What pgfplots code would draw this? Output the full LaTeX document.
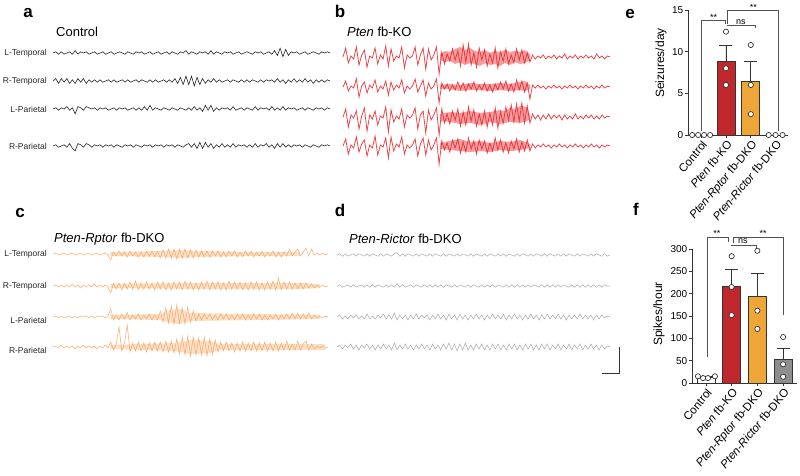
\documentclass[border=0pt]{standalone}
\usepackage{pgfplots}
\pgfplotsset{compat=1.18}
\usepackage{pgfplotstable}
\usepackage{fontspec}
\setmainfont{Liberation Sans}
\definecolor{ptenred}{HTML}{C0272D}
\definecolor{rptororange}{HTML}{EFA639}
\definecolor{rictorgray}{HTML}{8E8E8E}
\definecolor{tracered}{HTML}{E8262B}
\definecolor{traceorange}{HTML}{F5A25D}
\definecolor{tracegray}{HTML}{A8A8A8}
\definecolor{axgray}{HTML}{333333}

% Panel a: Control (deviation in px, up positive)
\pgfplotstableread{
A B C D
0 0 0 0
1 2 1 1
-1 -2 -1 -1
1 2 1 0
-1 -1 0 1
0 2 2 -1
1 -2 -1 2
-1 1 1 -2
2 -2 -4 -4
-1 2 2 2
1 -1 1 1
0 2 -1 -1
1 -2 2 2
-1 1 1 1
0 -1 0 -1
1 1 1 1
-1 -1 -1 0
0 1 1 1
1 -1 0 -1
-1 0 1 1
0 1 -1 0
1 -1 0 1
-1 1 1 -1
0 -1 -1 1
1 0 1 0
0 1 0 -1
-1 -1 1 1
1 1 -1 0
0 -1 0 1
-1 0 1 -1
1 1 -1 1
0 -1 1 0
1 1 -1 -1
-1 0 2 1
0 -1 -1 0
1 1 3 1
-1 -1 -1 -1
0 1 1 1
1 -1 0 0
-1 0 -1 1
0 1 1 -1
1 -1 0 1
-1 1 -1 0
1 -1 1 1
0 2 0 -1
-1 -2 -1 1
1 3 1 0
0 -3 0 -1
2 4 -1 1
-1 -3 1 2
1 4 -1 -1
0 -4 2 2
-1 3 -1 -2
1 -3 1 3
0 2 -2 -2
1 -2 3 3
-1 1 -1 -1
2 -1 3 2
-1 2 -2 -2
1 -1 1 1
0 1 -1 -1
-1 -1 1 2
1 0 0 -1
0 1 1 1
1 -1 -1 -1
-1 1 2 2
0 0 -1 -1
1 -1 0 1
-1 1 1 0
0 -1 -1 1
1 1 1 -1
0 -1 0 1
-1 1 -1 -1
1 0 2 2
0 -1 -1 -1
1 1 1 1
-1 -1 0 0
0 1 1 2
1 0 -1 -1
-1 1 2 1
2 -1 -1 -2
-2 2 1 2
4 -1 -1 -1
-3 1 2 2
3 -2 -1 -1
-2 1 1 1
1 -1 0 -1
0 2 1 1
1 -1 -1 0
-1 1 0 1
0 -1 1 -1
1 2 -1 1
-1 -1 1 0
0 1 0 -1
1 -2 -1 1
0 1 1 0
-1 -1 0 -1
1 1 1 1
0 -1 -1 0
1 1 1 1
0 0 0 0
}\tablea

% Panel b: Pten fb-KO
\pgfplotstableread{
A B C D
0 0 0 0
9 6 8 7
-6 -4 -10 -8
1 1 2 1
-2 -1 -1 -2
10 8 6 9
-8 -10 -12 -6
2 1 1 2
7 5 9 6
-10 -6 -14 -10
1 2 2 1
-1 -1 -2 -2
9 7 6 10
-7 -5 -8 -9
2 1 1 1
-2 -2 -1 -1
11 6 10 8
-9 -8 -15 -12
8 5 7 9
-4 -3 -5 -5
1 2 1 2
-1 -1 -2 -1
10 7 8 9
-11 -6 -10 -8
2 1 2 1
-1 -2 -1 -2
1 1 2 1
10 8 9 7
-8 -5 -12 -10
2 1 2 2
9 7 6 8
-12 -9 -16 -9
8 4 7 6
-3 -2 -3 -4
2 1 2 1
10 8 9 8
-17 -16 -18 -18
5 4 8 5
-7 -2 -6 -4
3 3 3 3
-4 -4 -7 -6
8 2 6 6
-3 -3 -3 -2
6 5 8 7
-9 -2 -9 -7
12 4 5 4
-5 -4 -8 -6
13 3 10 8
-8 -2 -4 -3
4 5 7 5
-10 -4 -9 -8
9 2 3 6
-3 -3 -8 -3
7 4 6 5
-9 -4 -10 -7
3 2 4 3
-6 -5 -8 -5
9 3 9 8
-11 -3 -11 -4
5 5 5 6
-4 -2 -6 -6
8 6 10 3
-7 -4 -3 -7
2 3 12 5
-6 -5 -5 -3
8 7 13 7
-3 -3 -4 -6
7 6 14 4
-6 -5 -6 -5
4 4 11 6
-5 -12 -6 -5
2 2 3 2
-2 -1 -2 -2
1 2 2 1
-1 -1 -3 -1
2 1 2 2
-2 -2 -2 -1
1 1 3 1
-1 -1 -2 -2
2 2 2 1
-2 -1 -1 -1
1 1 2 2
-1 -2 -3 -1
3 1 2 1
-2 -1 -2 -2
1 2 1 1
-1 -1 -2 -1
2 1 3 2
-2 -2 -2 -1
1 1 1 1
-1 -1 -2 -2
2 2 2 1
-1 -1 -1 -1
1 1 2 2
-2 -2 -2 -1
3 1 1 1
-1 -1 -2 -2
1 2 2 1
-2 -1 -1 -1
1 1 1 1
0 0 0 0
}\tableb

% Panel c: Pten-Rptor fb-DKO
\pgfplotstableread{
A B C D
0 0 0 0
1 1 1 1
-1 -1 -1 -1
0 1 1 2
1 -1 -1 -1
-1 1 0 1
0 -1 1 -1
1 2 -1 1
-1 -1 1 -2
0 1 -1 1
1 -2 1 -1
-1 1 0 2
0 -1 1 -1
1 1 -1 1
-1 -1 1 -1
0 2 -1 1
1 -1 1 -2
-1 1 0 1
0 -1 1 -1
1 1 -1 2
-1 -1 1 -1
-6 -7 8 5
2 3 -3 -3
-2 -3 2 3
3 3 -3 20
-2 -4 3 -4
2 3 -2 4
-3 -3 4 22
3 4 -3 -5
-2 -3 2 4
2 5 -2 -4
-3 -4 3 5
2 3 -3 -4
-3 -3 2 4
3 4 -2 -5
-2 -3 3 4
3 3 -3 -4
-3 -4 2 5
3 4 -3 -4
-4 -3 6 5
4 4 -5 -5
-4 -4 9 6
5 3 -6 -5
-4 -4 11 6
5 4 -7 -6
-5 -3 12 8
5 4 -6 -7
-4 -4 9 10
5 5 -7 -8
-4 -3 10 11
4 4 -5 -9
-4 -4 6 10
4 3 -4 -8
-3 -4 3 9
3 4 -3 -8
-3 -3 3 10
3 5 -2 -9
-3 -4 3 8
3 4 -3 -7
-2 -3 2 7
3 4 -3 -5
-3 -4 3 5
2 3 -2 -4
-3 -4 3 5
3 5 -3 -4
-2 -3 2 4
3 4 -3 -5
-3 -3 3 4
2 4 -2 -4
-3 -4 3 5
3 3 -3 -4
-2 -4 2 4
3 4 -3 -4
-3 -3 3 5
2 4 -2 -4
-2 -4 3 4
3 3 -3 -4
-3 -4 2 5
2 4 -3 -4
-2 -3 2 4
3 5 -2 -4
-3 -4 3 5
2 8 -3 -4
-3 -4 2 4
2 4 -2 -3
-2 -3 3 6
5 4 -2 -3
-2 -3 4 3
2 3 -2 -3
5 -3 4 6
-2 3 -2 -3
2 -3 3 3
6 3 -2 6
-2 -2 4 -3
5 2 -2 3
-1 -2 2 -2
1 1 -1 1
-1 -1 1 -1
1 1 -1 1
-1 -1 1 -1
0 0 0 0
}\tablec

% Panel d: Pten-Rictor fb-DKO
\pgfplotstableread{
A B C D
0 0 0 0
1 1 2 2
-1 -1 -2 -2
1 0 1 2
-1 1 -2 -1
0 -1 2 3
1 1 -1 -2
-1 -1 2 2
1 0 -2 -3
0 1 1 2
-1 -1 -2 -1
1 1 3 3
-1 -1 -2 -2
1 1 1 2
0 -1 -2 -3
-1 1 2 2
1 0 -1 -2
-1 -1 3 3
1 1 -2 -2
0 -1 2 2
-1 1 -2 -3
1 -1 4 4
2 2 -3 -3
-1 -1 2 2
1 1 -2 -2
-1 -1 2 3
1 0 -3 -2
0 1 2 2
-1 -1 -2 -3
1 1 3 2
-1 0 -2 -2
1 -1 2 3
0 1 -1 -2
-1 -1 2 2
1 1 -3 -3
-1 -1 2 3
1 1 -2 -2
0 -1 3 2
-1 1 -2 -3
1 -1 2 3
-1 1 -3 -2
1 0 3 4
0 -1 -2 -3
-1 1 2 3
1 -1 -3 -4
-1 1 3 3
1 0 -2 -3
0 -1 2 4
-1 1 -3 -3
1 -1 2 2
-1 1 -2 -3
1 0 3 3
0 -1 -2 -2
-1 1 2 3
1 -1 -3 -3
-1 1 2 2
1 -1 -2 -3
0 1 3 3
-1 -1 -2 -2
1 1 2 3
-1 0 -2 -3
1 -1 3 2
-1 1 -3 -3
1 -1 2 3
0 1 -2 -2
-1 -1 3 3
1 1 -2 -3
-1 -1 2 2
1 1 -3 -3
0 -1 2 3
-1 1 -2 -2
1 -1 3 3
-1 1 -2 -3
1 0 2 2
0 -1 -3 -3
-1 1 2 3
1 -1 -2 -2
-1 1 3 3
1 -1 -2 -3
0 1 2 2
-1 -1 -2 -2
1 1 3 3
-1 -1 -2 -3
1 1 2 2
-1 0 -3 -2
1 -1 2 3
0 1 -2 -3
-1 -1 2 2
1 1 -2 -2
-1 -1 3 3
1 1 -2 -3
0 -1 2 2
-1 1 -2 -2
1 -1 2 3
-1 1 -3 -2
1 -1 2 2
0 1 -2 -3
-1 -1 2 2
1 1 -1 -2
-1 0 1 1
0 0 0 0
}\tabled

\begin{document}
\begin{tikzpicture}[x=1pt,y=1pt]
% ---------- EEG traces, drawn in pixel units ----------
\begin{axis}[at={(0pt,0pt)}, anchor=south west, width=800pt, height=475pt,
  scale only axis, xmin=0, xmax=800, ymin=0, ymax=475, hide axis, clip=false]
% panel a
\addplot[black!85, line width=0.6pt] table[x expr={53+2.77*\coordindex}, y expr={422+1.2*\thisrow{A}}] {\tablea};
\addplot[black!85, line width=0.6pt] table[x expr={53+2.77*\coordindex}, y expr={394+1.2*\thisrow{B}}] {\tablea};
\addplot[black!85, line width=0.6pt] table[x expr={53+2.77*\coordindex}, y expr={366+1.2*\thisrow{C}}] {\tablea};
\addplot[black!85, line width=0.6pt] table[x expr={53+2.77*\coordindex}, y expr={329+1.2*\thisrow{D}}] {\tablea};
% panel b: dense seizure bands (envelopes), then traces
\addplot[fill=tracered, fill opacity=0.45, draw=none] coordinates {(440,421) (445,424) (450,423) (455,426) (460,428) (465,425) (470,427) (475,424) (480,423) (485,425) (490,422) (495,424) (500,423) (505,425) (510,423) (515,424) (520,423) (525,425) (530,421) (530,415) (525,412) (520,411) (515,413) (510,410) (505,412) (500,409) (495,411) (490,410) (485,412) (480,409) (475,411) (470,412) (465,410) (460,413) (455,411) (450,414) (445,413) (440,415)} -- cycle;
\addplot[fill=tracered, fill opacity=0.45, draw=none] coordinates {(440,390) (450,391) (460,390) (470,392) (480,391) (490,391) (500,392) (510,391) (520,393) (525,394) (530,390) (530,386) (525,384) (520,385) (510,384) (500,385) (490,384) (480,385) (470,385) (460,384) (450,386) (440,386)} -- cycle;
\addplot[fill=tracered, fill opacity=0.45, draw=none] coordinates {(440,361) (450,363) (460,362) (470,364) (480,362) (490,363) (500,365) (505,364) (510,367) (515,366) (520,369) (527,368) (530,360) (530,356) (527,354) (520,352) (510,353) (500,351) (490,353) (480,350) (470,352) (460,351) (450,353) (440,354)} -- cycle;
\addplot[fill=tracered, fill opacity=0.45, draw=none] coordinates {(440,332) (450,334) (460,336) (470,333) (480,334) (490,332) (500,334) (510,333) (520,335) (530,331) (530,327) (520,325) (510,324) (500,325) (490,323) (480,324) (470,323) (460,324) (450,325) (440,326)} -- cycle;
\addplot[tracered, opacity=0.85, line width=0.8pt] table[x expr={343+2.67*\coordindex}, y expr={418+\thisrow{A}}] {\tableb};
\addplot[tracered, opacity=0.85, line width=0.8pt] table[x expr={343+2.67*\coordindex}, y expr={388+\thisrow{B}}] {\tableb};
\addplot[tracered, opacity=0.85, line width=0.8pt] table[x expr={343+2.67*\coordindex}, y expr={358+\thisrow{C}}] {\tableb};
\addplot[tracered, opacity=0.85, line width=0.8pt] table[x expr={343+2.67*\coordindex}, y expr={329+\thisrow{D}}] {\tableb};
% panel c: bands, then traces
\addplot[fill=traceorange, fill opacity=0.35, draw=none] coordinates {(110,223) (160,224) (180,225) (200,224) (250,223) (300,223) (300,219) (250,219) (200,218) (180,217) (160,218) (110,219)} -- cycle;
\addplot[fill=traceorange, fill opacity=0.35, draw=none] coordinates {(110,191) (200,192) (300,192) (320,191) (320,187) (300,186) (200,186) (110,187)} -- cycle;
\addplot[fill=traceorange, fill opacity=0.35, draw=none] coordinates {(110,160) (160,161) (170,165) (180,166) (190,162) (320,160) (320,156) (190,154) (180,151) (170,152) (160,155) (110,156)} -- cycle;
\addplot[fill=traceorange, fill opacity=0.35, draw=none] coordinates {(110,130) (175,132) (190,135) (210,134) (220,131) (325,131) (325,125) (220,125) (210,122) (190,121) (175,124) (110,126)} -- cycle;
\addplot[traceorange, opacity=0.8, line width=0.6pt] table[x expr={53+2.75*\coordindex}, y expr={221+\thisrow{A}}] {\tablec};
\addplot[traceorange, opacity=0.8, line width=0.6pt] table[x expr={53+2.75*\coordindex}, y expr={189+\thisrow{B}}] {\tablec};
\addplot[traceorange, opacity=0.8, line width=0.6pt] table[x expr={53+2.75*\coordindex}, y expr={158+\thisrow{C}}] {\tablec};
\addplot[traceorange, opacity=0.8, line width=0.6pt] table[x expr={53+2.75*\coordindex}, y expr={128+\thisrow{D}}] {\tablec};
% panel d
\addplot[tracegray, line width=0.5pt] table[x expr={337+2.73*\coordindex}, y expr={220+1.2*\thisrow{A}}] {\tabled};
\addplot[tracegray, line width=0.5pt] table[x expr={337+2.73*\coordindex}, y expr={189+1.2*\thisrow{B}}] {\tabled};
\addplot[tracegray, line width=0.5pt] table[x expr={337+2.73*\coordindex}, y expr={158+\thisrow{C}}] {\tabled};
\addplot[tracegray, line width=0.5pt] table[x expr={337+2.73*\coordindex}, y expr={128+\thisrow{D}}] {\tabled};
% scale bar
\addplot[axgray, line width=0.9pt] coordinates {(602,102) (619,102) (619,128)};
\end{axis}

% ---------- labels ----------
\tikzset{plab/.style={font=\fontsize{17}{18}\selectfont\bfseries, inner sep=0pt},
         ttl/.style={font=\fontsize{13}{15}\selectfont, anchor=west, inner sep=0pt},
         trl/.style={font=\fontsize{8.5}{10}\selectfont, anchor=east, inner sep=0pt, text=black!85}}
\node[plab] at (28,462) {a};
\node[plab] at (340,464) {b};
\node[plab] at (20,262) {c};
\node[plab] at (340,265) {d};
\node[plab] at (630,461) {e};
\node[plab] at (636,266) {f};

\node[ttl] at (56,443) {Control};
\node[ttl] at (347,443) {\textit{Pten} fb-KO};
\node[ttl] at (54,236) {\textit{Pten-Rptor} fb-DKO};
\node[ttl] at (349,236) {\textit{Pten-Rictor} fb-DKO};

\node[trl] at (47,422) {L-Temporal};
\node[trl] at (47,394) {R-Temporal};
\node[trl] at (47,366) {L-Parietal};
\node[trl] at (47,329) {R-Parietal};
\node[trl] at (47,221) {L-Temporal};
\node[trl] at (47,189) {R-Temporal};
\node[trl] at (47,155) {L-Parietal};
\node[trl] at (47,125) {R-Parietal};

\node[rotate=90, font=\fontsize{12}{14}\selectfont] at (661,412) {Seizures/day};
\node[rotate=90, font=\fontsize{12}{14}\selectfont] at (659,161) {Spikes/hour};

% ---------- panel e ----------
\begin{axis}[at={(688pt,340pt)}, anchor=south west, width=100pt, height=125pt, scale only axis,
  xmin=-0.53, xmax=3.5, ymin=0, ymax=15, clip=false,
  axis x line*=bottom, axis y line*=left,
  axis line style={axgray, line width=0.8pt},
  tick style={axgray, line width=0.8pt}, tick align=outside, major tick length=3pt,
  ytick={0,5,10,15}, xtick={0,1,2,3},
  xticklabels={Control, \textit{Pten} fb-KO, \textit{Pten-Rptor} fb-DKO, \textit{Pten-Rictor} fb-DKO},
  xticklabel style={rotate=50, anchor=north east, font=\fontsize{11.5}{13}\selectfont, inner sep=1pt},
  yticklabel style={font=\fontsize{10}{12}\selectfont, inner sep=1.5pt},
  /pgf/number format/assume math mode=true]
\addplot[ybar, bar width=18pt, bar shift=0pt, fill=ptenred, draw=axgray, line width=0.7pt,
  error bars/.cd, y dir=plus, y explicit,
  error bar style={axgray, line width=0.8pt},
  error mark options={rotate=90, mark size=6.5pt, axgray, line width=0.8pt}]
  coordinates {(1,8.8) +- (0,1.9)};
\addplot[ybar, bar width=18pt, bar shift=0pt, fill=rptororange, draw=axgray, line width=0.7pt,
  error bars/.cd, y dir=plus, y explicit,
  error bar style={axgray, line width=0.8pt},
  error mark options={rotate=90, mark size=6.5pt, axgray, line width=0.8pt}]
  coordinates {(2,6.43) +- (0,2.4)};
\addplot[only marks, mark=*, mark size=2.6pt, mark options={fill=white, draw=axgray, line width=0.7pt}]
  coordinates {(-0.36,0) (-0.12,0) (0.12,0) (0.36,0)
               (1,12.4) (1,8.0) (1,6.0)
               (2,10.8) (2,6.0) (2,2.5)
               (2.72,0) (3.0,0) (3.28,0)};
\draw[axgray!85, line width=0.8pt] (axis cs:0,0.45) |- (axis cs:0.97,13.8) -- (axis cs:0.97,13.3);
\draw[axgray!85, line width=0.8pt] (axis cs:1.05,13.3) |- (axis cs:3.1,15.0) -- (axis cs:3.1,0.45);
\draw[axgray!85, line width=0.8pt] (axis cs:1.05,13.1) -- (axis cs:2.18,13.1) -- (axis cs:2.18,12.8);
\node[font=\fontsize{9}{10}\selectfont, inner sep=0pt] at (axis cs:0.5,14.15) {**};
\node[font=\fontsize{9}{10}\selectfont, inner sep=0pt] at (axis cs:2.1,15.35) {**};
\node[font=\fontsize{9}{10}\selectfont, inner sep=0pt] at (axis cs:1.6,13.6) {ns};
\end{axis}

% ---------- panel f ----------
\begin{axis}[at={(692pt,92pt)}, anchor=south west, width=105pt, height=134pt, scale only axis,
  xmin=-0.54, xmax=3.54, ymin=0, ymax=300, clip=false,
  axis x line*=bottom, axis y line*=left,
  axis line style={axgray, line width=0.8pt},
  tick style={axgray, line width=0.8pt}, tick align=outside, major tick length=3pt,
  ytick={0,50,100,150,200,250,300}, xtick={0,1,2,3},
  xticklabels={Control, \textit{Pten} fb-KO, \textit{Pten-Rptor} fb-DKO, \textit{Pten-Rictor} fb-DKO},
  xticklabel style={rotate=50, anchor=north east, font=\fontsize{11.5}{13}\selectfont, inner sep=1pt},
  yticklabel style={font=\fontsize{10}{12}\selectfont, inner sep=1.5pt},
  /pgf/number format/assume math mode=true]
\addplot[ybar, bar width=18pt, bar shift=0pt, fill=white, draw=axgray, line width=0.7pt,
  error bars/.cd, y dir=plus, y explicit,
  error bar style={axgray, line width=0.8pt},
  error mark options={rotate=90, mark size=6.5pt, axgray, line width=0.8pt}]
  coordinates {(0,13) +- (0,2)};
\addplot[ybar, bar width=18pt, bar shift=0pt, fill=ptenred, draw=axgray, line width=0.7pt,
  error bars/.cd, y dir=plus, y explicit,
  error bar style={axgray, line width=0.8pt},
  error mark options={rotate=90, mark size=6.5pt, axgray, line width=0.8pt}]
  coordinates {(1,217) +- (0,37)};
\addplot[ybar, bar width=18pt, bar shift=0pt, fill=rptororange, draw=axgray, line width=0.7pt,
  error bars/.cd, y dir=plus, y explicit,
  error bar style={axgray, line width=0.8pt},
  error mark options={rotate=90, mark size=6.5pt, axgray, line width=0.8pt}]
  coordinates {(2,193) +- (0,52)};
\addplot[ybar, bar width=18pt, bar shift=0pt, fill=rictorgray, draw=axgray, line width=0.7pt,
  error bars/.cd, y dir=plus, y explicit,
  error bar style={axgray, line width=0.8pt},
  error mark options={rotate=90, mark size=6.5pt, axgray, line width=0.8pt}]
  coordinates {(3,53) +- (0,25)};
\addplot[only marks, mark=*, mark size=2.6pt, mark options={fill=white, draw=axgray, line width=0.7pt}]
  coordinates {(-0.31,15) (-0.11,11) (0.08,11) (0.35,15)
               (1,284) (1,215) (1,152)
               (2,296) (2,162) (2,121)
               (3,103) (3,42) (3,14)};
\draw[axgray!85, line width=0.8pt] (axis cs:0.04,58) |- (axis cs:0.86,325) -- (axis cs:0.86,316);
\draw[axgray!85, line width=0.8pt] (axis cs:1.05,314) |- (axis cs:3.03,325) -- (axis cs:3.03,152);
\draw[axgray!85, line width=0.8pt] (axis cs:0.98,307) -- (axis cs:1.98,307) -- (axis cs:1.98,299);
\node[font=\fontsize{9}{10}\selectfont, inner sep=0pt] at (axis cs:0.43,334) {**};
\node[font=\fontsize{9}{10}\selectfont, inner sep=0pt] at (axis cs:2.22,335) {**};
\node[font=\fontsize{9}{10}\selectfont, inner sep=0pt] at (axis cs:1.44,317) {ns};
\end{axis}

\pgfresetboundingbox
\path[use as bounding box] (0,0) rectangle (800,475);
\end{tikzpicture}
\end{document}
